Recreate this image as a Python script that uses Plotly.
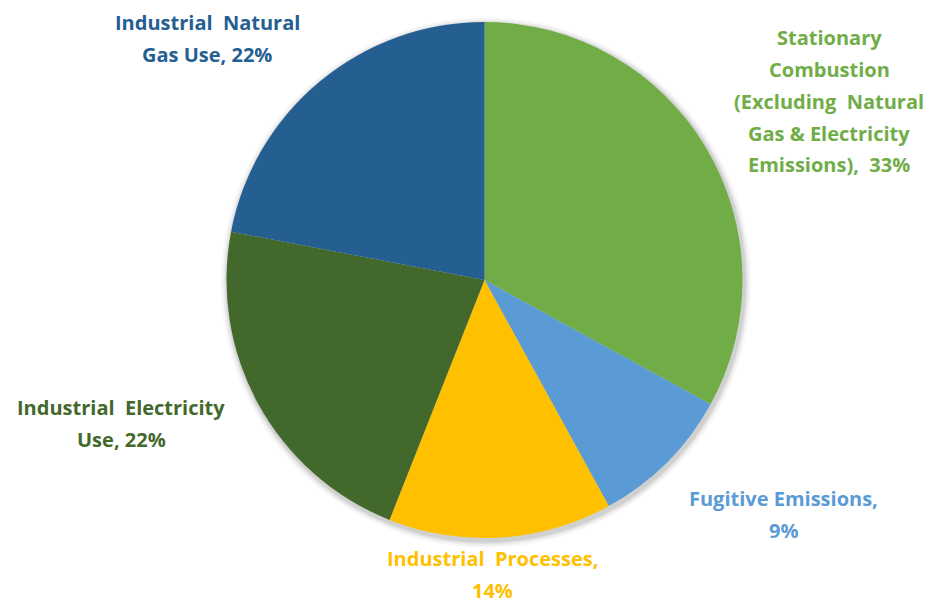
import plotly.graph_objects as go

# Industrial emissions by source (share of total, %)
sources = [
    "Stationary Combustion (Excluding Natural Gas & Electricity Emissions)",
    "Fugitive Emissions",
    "Industrial Processes",
    "Industrial Electricity Use",
    "Industrial Natural Gas Use",
]
shares = [33, 9, 14, 22, 22]
colors = ["#70AD47", "#5B9BD5", "#FFC000", "#43682B", "#255E91"]

# How each label wraps (line breaks within the source name)
label_lines = [
    ["Stationary", "Combustion", "(Excluding  Natural", "Gas & Electricity", "Emissions),  {v}%"],
    ["Fugitive Emissions,", "{v}%"],
    ["Industrial  Processes,", "{v}%"],
    ["Industrial  Electricity", "Use, {v}%"],
    ["Industrial  Natural", "Gas Use, {v}%"],
]
# label block centre (x px) and first-line centre (y px)
label_anchor = [(829, 37), (783, 498), (492, 558), (121, 407), (207, 22)]
line_gap = 32

W, H = 935, 603
cx, cy, r = 484.5, 280, 258

fig = go.Figure()

fig.add_trace(go.Pie(
    labels=sources,
    values=shares,
    sort=False,
    direction="clockwise",
    rotation=0,
    marker=dict(colors=colors, line=dict(width=0)),
    textinfo="none",
    hoverinfo="label+percent",
    showlegend=False,
    domain=dict(x=[(cx - r) / W, (cx + r) / W], y=[(H - cy - r) / H, (H - cy + r) / H]),
))

# soft drop shadow around the pie
shapes = []
for grow, op in [(7, 0.03), (5, 0.04), (3.5, 0.05), (2, 0.07)]:
    rr = r + grow
    ox, oy = 1.5, 2.5
    shapes.append(dict(
        type="circle", xref="paper", yref="paper", layer="below",
        x0=(cx + ox - rr) / W, x1=(cx + ox + rr) / W,
        y0=(H - cy - oy - rr) / H, y1=(H - cy - oy + rr) / H,
        fillcolor=f"rgba(0,0,0,{op})", line=dict(width=0),
    ))

annotations = []
for lines, (ax, ay), v, col in zip(label_lines, label_anchor, shares, colors):
    for k, ln in enumerate(lines):
        annotations.append(dict(
            text=ln.format(v=v), x=ax / W, y=1 - (ay + k * line_gap) / H,
            xref="paper", yref="paper", xanchor="center", yanchor="middle",
            showarrow=False,
            font=dict(family="Open Sans", size=20, color=col, weight="bold"),
        ))

fig.update_layout(
    width=W, height=H,
    margin=dict(l=0, r=0, t=0, b=0),
    paper_bgcolor="white", plot_bgcolor="white",
    shapes=shapes,
    annotations=annotations,
)

fig.write_html("out.html")
